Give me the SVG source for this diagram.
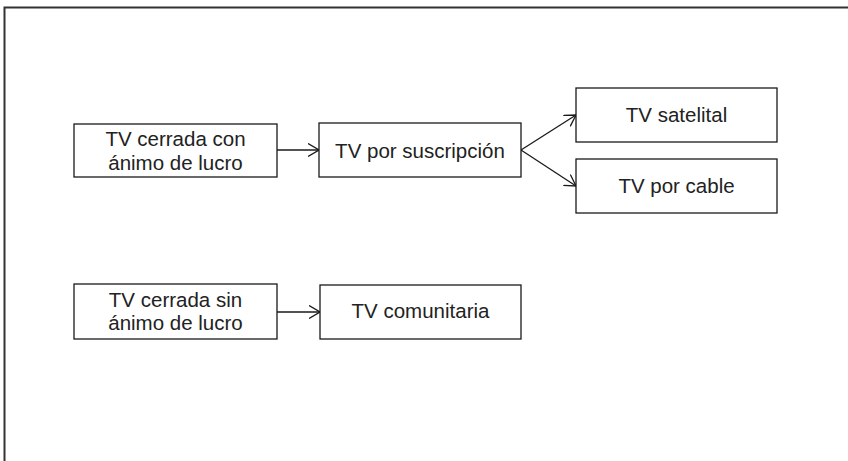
<svg xmlns="http://www.w3.org/2000/svg" width="848" height="461" viewBox="0 0 848 461">
<style>
.box{fill:#fff;stroke:#1a1a1a;stroke-width:1.3}
.t{font-family:"Liberation Sans",Arial,sans-serif;font-size:20.5px;fill:#222;text-anchor:middle}
.c{stroke:#1a1a1a;stroke-width:1.3;fill:none;marker-end:url(#ah)}
</style>
<defs>
<marker id="ah" viewBox="0 0 12 14" refX="11" refY="7" markerWidth="12" markerHeight="14" markerUnits="userSpaceOnUse" orient="auto">
<path d="M0,0.5 L11,7 L0,13.5" fill="none" stroke="#1a1a1a" stroke-width="1.3"/>
</marker>
</defs>
<rect x="0" y="0" width="848" height="461" fill="#fff"/>
<path d="M4.5,470 V7.5 H860" fill="none" stroke="#333" stroke-width="2"/>
<g id="connectors">
<line class="c" x1="277" y1="150" x2="319" y2="150"/>
<line class="c" x1="521" y1="150" x2="576" y2="115"/>
<line class="c" x1="521" y1="150" x2="576" y2="186"/>
<line class="c" x1="277" y1="312" x2="320" y2="312"/>
</g>
<g id="n1"><rect class="box" x="74" y="124" width="203" height="53"/><text class="t" x="175.5" y="146">TV cerrada con</text><text class="t" x="175.5" y="170">ánimo de lucro</text></g>
<g id="n2"><rect class="box" x="319" y="123" width="202" height="54"/><text class="t" x="420" y="157.5">TV por suscripción</text></g>
<g id="n3"><rect class="box" x="576" y="88" width="201" height="54"/><text class="t" x="676.5" y="122">TV satelital</text></g>
<g id="n4"><rect class="box" x="576" y="159" width="201" height="54"/><text class="t" x="676.5" y="193">TV por cable</text></g>
<g id="n5"><rect class="box" x="74" y="284" width="203" height="55"/><text class="t" x="175.5" y="307">TV cerrada sin</text><text class="t" x="175.5" y="330">ánimo de lucro</text></g>
<g id="n6"><rect class="box" x="320" y="285" width="201" height="54"/><text class="t" x="420.5" y="318">TV comunitaria</text></g>
</svg>
